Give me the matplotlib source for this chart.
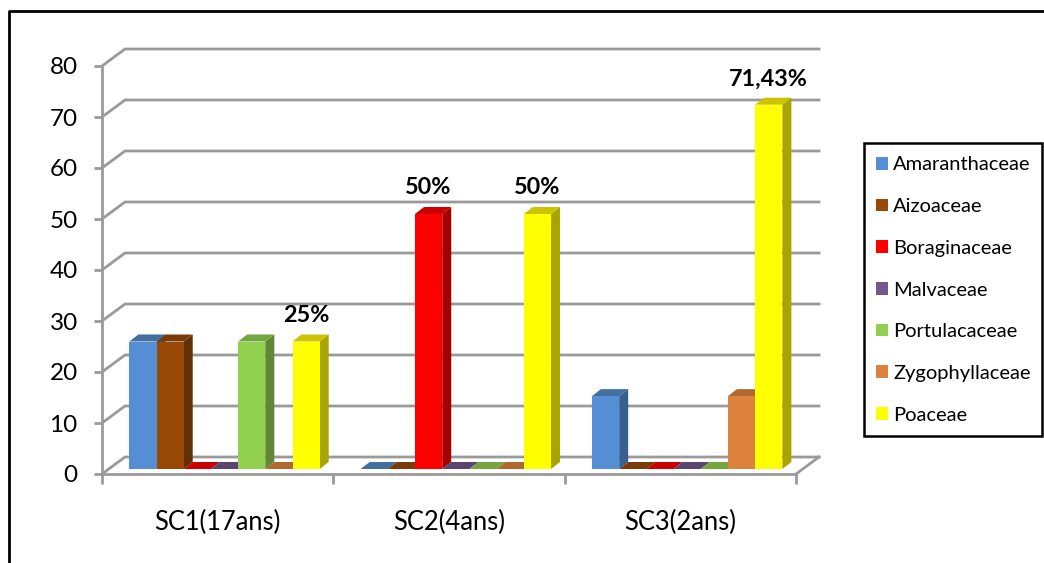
import matplotlib
matplotlib.use('Agg')
import matplotlib.pyplot as plt
from matplotlib.patches import Patch, Polygon, Rectangle

plt.rcParams['font.family'] = ['Lato', 'DejaVu Sans']

W, H = 1044, 563

sites = ['SC1(17ans)', 'SC2(4ans)', 'SC3(2ans)']
families = ['Amaranthaceae', 'Aizoaceae', 'Boraginaceae', 'Malvaceae',
            'Portulacaceae', 'Zygophyllaceae', 'Poaceae']
amaranthaceae = [25, 0, 14.29]
aizoaceae = [25, 0, 0]
boraginaceae = [0, 50, 0]
malvaceae = [0, 0, 0]
portulacaceae = [25, 0, 0]
zygophyllaceae = [0, 0, 14.29]
poaceae = [25, 50, 71.43]
series = [amaranthaceae, aizoaceae, boraginaceae, malvaceae,
          portulacaceae, zygophyllaceae, poaceae]

y_ticks = [0, 10, 20, 30, 40, 50, 60, 70, 80]

# (value label, site index, family index)
value_labels = [('25%', 0, 6), ('50%', 1, 2), ('50%', 1, 6), ('71,43%', 2, 6)]

front_colors = ['#558ED5', '#984807', '#FF0000', '#71588F', '#92D050', '#DC823C', '#FFFF00']
top_colors = ['#41709F', '#7A3B08', '#CC0000', '#59456F', '#74A640', '#B0682F', '#CCC400']
side_colors = ['#376092', '#632F05', '#A50000', '#4A3A5E', '#5F8734', '#8F5426', '#A8A500']
grid_color = '#9A9A9A'

# plot area in pixels, the oblique depth is handled in pixels as well
left, right, top, bottom = 102, 796, 66, 474
px_x = 3 / (right - left)
px_y = 80 / (bottom - top)
wall_dx, wall_dy = 23 * px_x, 17 * px_y
bar_dx, bar_dy = 9 * px_x, 7 * px_y
base_y = 5 * px_y
bar_w = 27.2 * px_x
first_x = 27.3 * px_x

fig = plt.figure(figsize=(W / 100, H / 100), dpi=100)
ax = fig.add_axes([left / W, 1 - bottom / H, (right - left) / W, (bottom - top) / H])
ax.set_xlim(0, 3)
ax.set_ylim(0, 80)
ax.patch.set_visible(False)

# outer chart border, runs off the top right and bottom left
fig.add_artist(plt.Line2D([9 / W, 9 / W, 1], [0, 1 - 11 / H, 1 - 11 / H],
                          color='black', lw=2, transform=fig.transFigure))

# back wall and floor lines
for v in y_ticks:
    ax.plot([0, wall_dx, 3 + wall_dx], [v, v + wall_dy, v + wall_dy],
            color=grid_color, lw=2, clip_on=False, zorder=1, solid_joinstyle='miter')
ax.plot([3, 3 + wall_dx], [0, wall_dy], color=grid_color, lw=2, clip_on=False, zorder=1)

for s in ['top', 'right']:
    ax.spines[s].set_visible(False)
for s in ['left', 'bottom']:
    ax.spines[s].set_color(grid_color)
    ax.spines[s].set_linewidth(2)
    ax.spines[s].set_zorder(1.5)

ax.set_yticks(y_ticks)
ax.set_xticks([0, 1, 2, 3])
ax.set_xticklabels([])
ax.set_xticks([0.5, 1.5, 2.5], sites, minor=True)
ax.tick_params(axis='y', length=5.5, width=2, color=grid_color, labelsize=17.5, pad=12)
ax.tick_params(axis='x', which='major', length=7.5, width=2, color=grid_color)
ax.tick_params(axis='x', which='minor', length=0, labelsize=18.4, pad=26)

# bars, drawn left to right so each front covers the neighbouring side
z = 2
for i in range(len(sites)):
    for j, vals in enumerate(series):
        v = vals[i]
        x0 = i + first_x + j * bar_w
        x1 = x0 + bar_w
        y1 = base_y + v
        ax.add_patch(Polygon([(x1, base_y), (x1 + bar_dx, base_y + bar_dy),
                              (x1 + bar_dx, y1 + bar_dy), (x1, y1)],
                             fc=side_colors[j], ec='none', clip_on=False, zorder=z))
        ax.add_patch(Polygon([(x0, y1), (x0 + bar_dx, y1 + bar_dy),
                              (x1 + bar_dx, y1 + bar_dy), (x1, y1)],
                             fc=top_colors[j], ec='none', clip_on=False, zorder=z))
        ax.bar(x0, v, bar_w, bottom=base_y, align='edge', color=front_colors[j],
               clip_on=False, zorder=z + 0.5)
        z += 1

for txt, i, j in value_labels:
    xc = i + first_x + (j + 0.5) * bar_w
    v = series[j][i]
    ax.annotate(txt, xy=(xc, v + base_y + bar_dy), xytext=(0, 19), textcoords='offset pixels',
                ha='center', va='center', fontsize=16.8, fontweight='bold',
                annotation_clip=False, zorder=z + 1)

# legend box
fig.add_artist(Rectangle((864 / W, 1 - 436 / H), (1042 - 864) / W, (436 - 143) / H,
                         fc='white', ec='black', lw=1.8, transform=fig.transFigure))
handles = [Patch(fc=c, ec='none') for c in front_colors]
fig.legend(handles, families, loc='center left', bbox_to_anchor=(876 / W, 1 - 290 / H),
           frameon=False, fontsize=14.5, labelspacing=1.225, handlelength=0.6,
           handleheight=0.6, handletextpad=0.25, borderpad=0, borderaxespad=0)

fig.savefig('out.png', dpi=100)
